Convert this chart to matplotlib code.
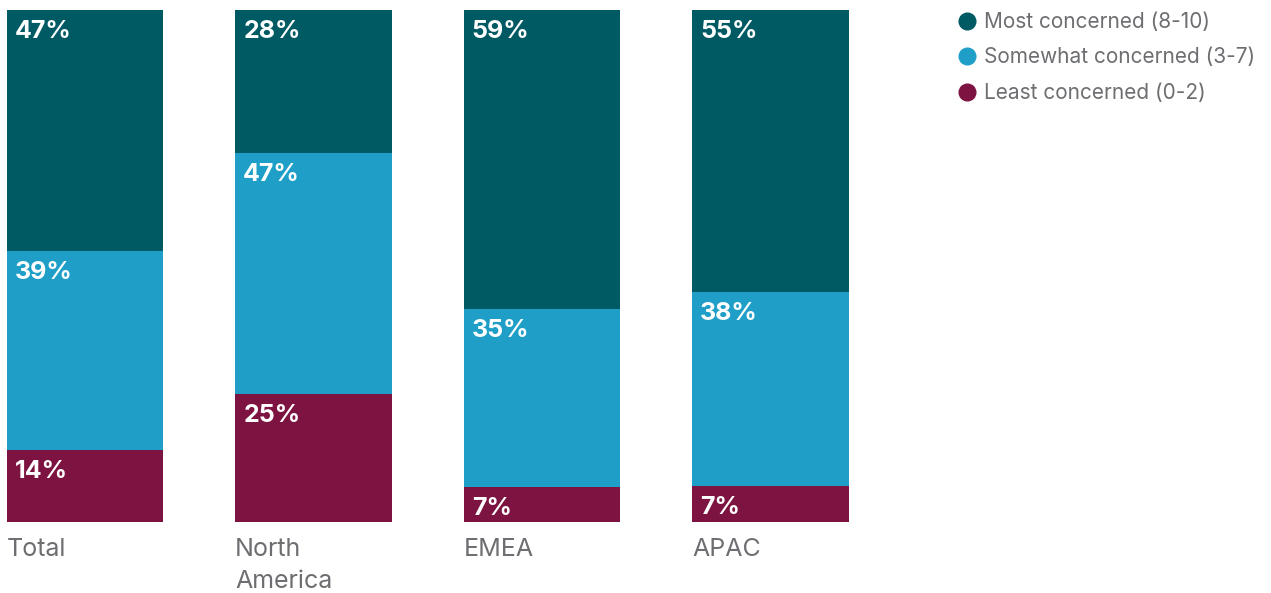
import matplotlib
matplotlib.use("Agg")
import matplotlib.pyplot as plt
import numpy as np
from matplotlib.lines import Line2D

plt.rcParams['font.family'] = ['Inter', 'DejaVu Sans']

categories = ["Total", "North\nAmerica", "EMEA", "APAC"]
series_names = ["Most concerned (8-10)", "Somewhat concerned (3-7)", "Least concerned (0-2)"]
most = [47, 28, 59, 55]
somewhat = [39, 47, 35, 38]
least = [14, 25, 7, 7]
colors = ["#005A64", "#1F9FC7", "#7D1340"]
text_grey = "#6D6E71"

W, H = 1271, 593
fig = plt.figure(figsize=(W / 100, H / 100), dpi=100)
ax_left_px, ax_right_px = 0, 860
ax_top_px, ax_bot_px = 10, 522
ax = fig.add_axes([ax_left_px / W, 1 - ax_bot_px / H,
                   (ax_right_px - ax_left_px) / W, (ax_bot_px - ax_top_px) / H])

x = np.arange(len(categories))
bar_w = 0.685
unit_px = 228.5
center0_px = 85
ax.set_xlim((ax_left_px - center0_px) / unit_px, (ax_right_px - center0_px) / unit_px)
ax.set_ylim(0, 1)

data = np.array([most, somewhat, least], dtype=float)
totals = data.sum(axis=0)
shares = data / totals

tops = np.ones(len(categories))
for i, (vals, shr) in enumerate(zip(data, shares)):
    bottoms = tops - shr
    ax.bar(x, shr, bottom=bottoms, width=bar_w, color=colors[i], linewidth=0)
    for j in range(len(categories)):
        ax.annotate(f"{int(vals[j])}%", xy=(x[j] - bar_w / 2, tops[j]),
                    xytext=(8, -28), textcoords='offset pixels',
                    ha='left', va='baseline', color='white',
                    fontsize=18, fontweight='bold')
    tops = bottoms

for j, cat in enumerate(categories):
    ax.annotate(cat, xy=(x[j] - bar_w / 2, 0), xytext=(0, -16),
                textcoords='offset pixels', ha='left', va='top',
                color=text_grey, fontsize=18, linespacing=1.5)

ax.axis('off')

for i, name in enumerate(series_names):
    yb = 28 + 35.5 * i
    fig.add_artist(Line2D([967 / W], [1 - (yb - 7.5) / H], marker='o', markersize=12,
                          color=colors[i], linestyle='none', transform=fig.transFigure))
    fig.text(984 / W, 1 - yb / H, name, ha='left', va='baseline',
             color=text_grey, fontsize=15)

fig.savefig("out.png", dpi=100)
